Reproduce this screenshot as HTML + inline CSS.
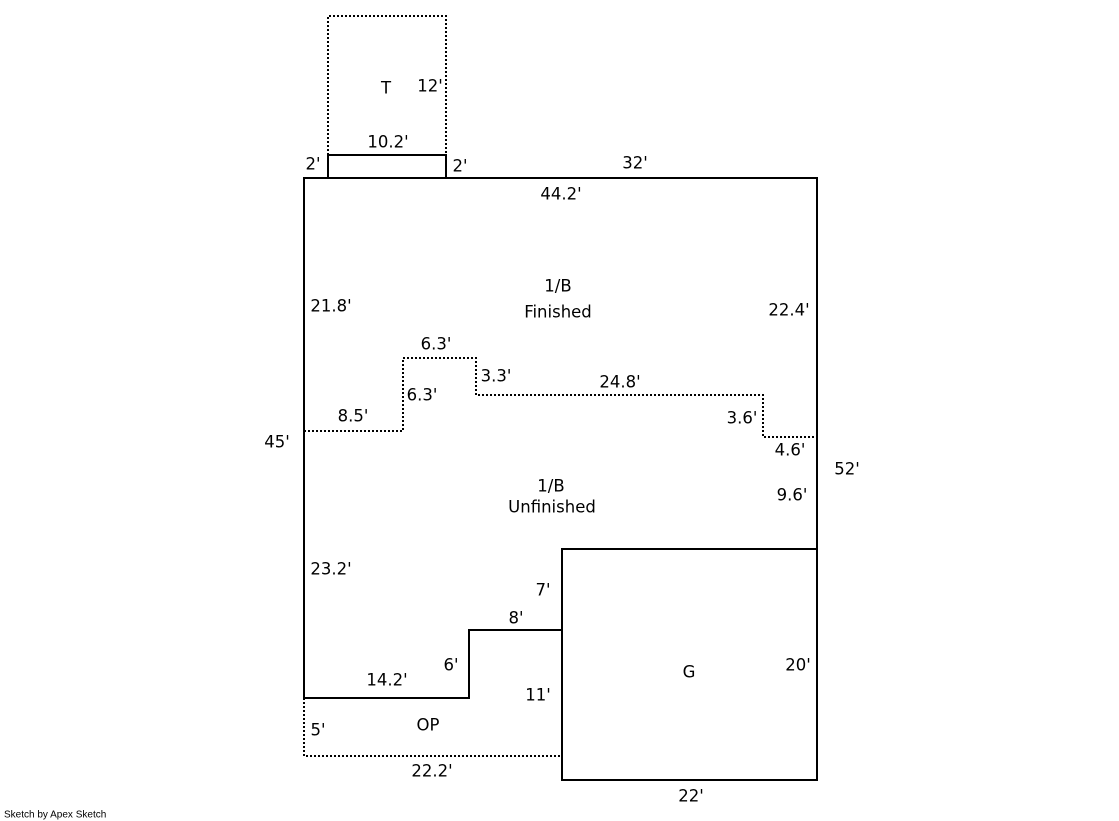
<!DOCTYPE html>
<html><head><meta charset="utf-8"><style>
html,body{margin:0;padding:0;background:#fff;}
svg{display:block;}
text{font-family:"DejaVu Sans","Liberation Sans",sans-serif;font-size:16.5px;fill:#000;text-anchor:middle;dominant-baseline:central;}
</style></head><body>
<svg width="1119" height="821" viewBox="0 0 1119 821" xmlns="http://www.w3.org/2000/svg">
<g fill="none" stroke="#000" stroke-width="2">
<rect x="328" y="155" width="118" height="23"/>
<polyline points="304,698 304,178 817,178 817,549"/>
<rect x="562" y="549" width="255" height="231"/>
<polyline points="304,698 469,698 469,630 562,630"/>
</g>
<g fill="none" stroke="#000" stroke-width="2" stroke-dasharray="2,2">
<polyline points="328,155 328,16 446,16 446,155"/>
<polyline points="304,431 403,431 403,358 476,358 476,395 763,395 763,437 817,437"/>
<polyline points="304,698 304,756 562,756"/>
</g>
<text x="430" y="86">12'</text>
<text x="386" y="88">T</text>
<text x="388" y="142">10.2'</text>
<text x="313" y="164">2'</text>
<text x="460" y="166">2'</text>
<text x="635" y="163">32'</text>
<text x="561" y="194">44.2'</text>
<text x="558" y="286">1/B</text>
<text x="558" y="312">Finished</text>
<text x="331" y="306">21.8'</text>
<text x="789" y="310">22.4'</text>
<text x="436" y="344">6.3'</text>
<text x="496" y="376">3.3'</text>
<text x="620" y="382">24.8'</text>
<text x="422" y="395">6.3'</text>
<text x="353" y="416">8.5'</text>
<text x="742" y="418">3.6'</text>
<text x="790" y="450">4.6'</text>
<text x="277" y="442">45'</text>
<text x="847" y="469">52'</text>
<text x="551" y="486">1/B</text>
<text x="552" y="507">Unfinished</text>
<text x="792" y="495">9.6'</text>
<text x="331" y="569">23.2'</text>
<text x="543" y="590">7'</text>
<text x="516" y="618">8'</text>
<text x="451" y="665">6'</text>
<text x="387" y="680">14.2'</text>
<text x="538" y="695">11'</text>
<text x="689" y="672">G</text>
<text x="798" y="665">20'</text>
<text x="318" y="730">5'</text>
<text x="428" y="725">OP</text>
<text x="432" y="771">22.2'</text>
<text x="691" y="796">22'</text>
<text x="4" y="815" style="font-size:10px;text-anchor:start;font-family:'Liberation Sans',sans-serif">Sketch by Apex Sketch</text>
</svg>
</body></html>
